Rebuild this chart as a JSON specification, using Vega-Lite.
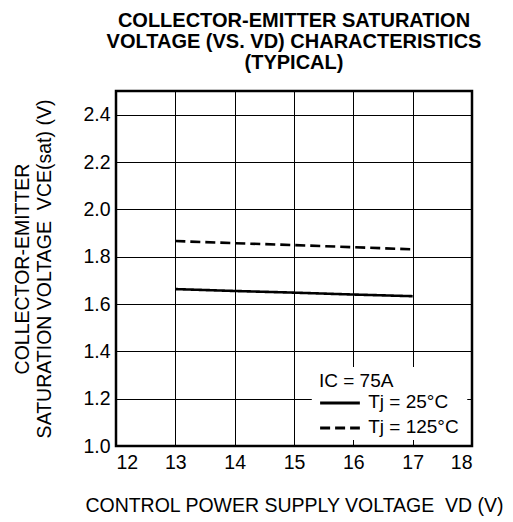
{
  "$schema": "https://vega.github.io/schema/vega-lite/v6.json",
  "width": 356,
  "height": 355,
  "autosize": {"type": "none"},
  "padding": {"left": 116, "top": 91, "right": 41, "bottom": 76},
  "background": "white",
  "title": {
    "text": ["COLLECTOR-EMITTER SATURATION", "VOLTAGE (VS. VD) CHARACTERISTICS", "(TYPICAL)"],
    "font": "Liberation Sans",
    "fontSize": 20,
    "fontWeight": "bold",
    "color": "black",
    "lineHeight": 21,
    "anchor": "middle",
    "frame": "group",
    "offset": 18
  },
  "config": {
    "view": {"stroke": "black", "strokeWidth": 2.5},
    "axis": {
      "labelFont": "Liberation Sans",
      "titleFont": "Liberation Sans",
      "labelFontSize": 19.5,
      "titleFontSize": 19.5,
      "titleFontWeight": "normal",
      "labelColor": "black",
      "titleColor": "black",
      "domain": false,
      "ticks": false,
      "gridColor": "black",
      "gridWidth": 1,
      "gridOpacity": 1
    },
    "text": {"font": "Liberation Sans", "fontSize": 19, "color": "black"}
  },
  "layer": [
    {
      "data": {
        "values": [
          {"vd": 13, "vce": 1.663, "tj": "Tj = 25°C"},
          {"vd": 14, "vce": 1.655, "tj": "Tj = 25°C"},
          {"vd": 15, "vce": 1.648, "tj": "Tj = 25°C"},
          {"vd": 16, "vce": 1.640, "tj": "Tj = 25°C"},
          {"vd": 17, "vce": 1.633, "tj": "Tj = 25°C"},
          {"vd": 13, "vce": 1.866, "tj": "Tj = 125°C"},
          {"vd": 14, "vce": 1.857, "tj": "Tj = 125°C"},
          {"vd": 15, "vce": 1.849, "tj": "Tj = 125°C"},
          {"vd": 16, "vce": 1.840, "tj": "Tj = 125°C"},
          {"vd": 17, "vce": 1.831, "tj": "Tj = 125°C"}
        ]
      },
      "mark": {"type": "line", "color": "black", "strokeWidth": 2.6},
      "encoding": {
        "x": {
          "field": "vd",
          "type": "quantitative",
          "scale": {"domain": [12, 18], "nice": false},
          "axis": {
            "title": "CONTROL POWER SUPPLY VOLTAGE\u00a0\u00a0VD (V)",
            "values": [12, 13, 14, 15, 16, 17, 18],
            "format": "d",
            "labelPadding": 7,
            "titlePadding": 25
          }
        },
        "y": {
          "field": "vce",
          "type": "quantitative",
          "scale": {"domain": [1.0, 2.5], "nice": false, "zero": false},
          "axis": {
            "title": ["COLLECTOR-EMITTER", "SATURATION VOLTAGE\u00a0\u00a0VCE(sat) (V)"],
            "values": [1.0, 1.2, 1.4, 1.6, 1.8, 2.0, 2.2, 2.4],
            "format": ".1f",
            "labelPadding": 6,
            "titlePadding": 28,
            "titleLineHeight": 22
          }
        },
        "strokeDash": {
          "field": "tj",
          "type": "nominal",
          "scale": {"domain": ["Tj = 25°C", "Tj = 125°C"], "range": [[1, 0], [10, 5]]},
          "legend": null
        }
      }
    },
    {
      "data": {"values": [{"legend": "box"}]},
      "mark": {"type": "rect", "fill": "white"},
      "encoding": {
        "x": {"datum": 15.3, "type": "quantitative"},
        "x2": {"datum": 17.92},
        "y": {"datum": 1.334, "type": "quantitative"},
        "y2": {"datum": 1.025}
      }
    },
    {
      "data": {"values": [{"legend": "Tj = 25°C"}]},
      "mark": {"type": "rule", "color": "black", "strokeWidth": 3},
      "encoding": {
        "x": {"datum": 15.44, "type": "quantitative"},
        "x2": {"datum": 16.11},
        "y": {"datum": 1.182, "type": "quantitative"}
      }
    },
    {
      "data": {"values": [{"legend": "Tj = 125°C"}]},
      "mark": {"type": "rule", "color": "black", "strokeWidth": 3, "strokeDash": [10, 5]},
      "encoding": {
        "x": {"datum": 15.44, "type": "quantitative"},
        "x2": {"datum": 16.11},
        "y": {"datum": 1.076, "type": "quantitative"}
      }
    },
    {
      "data": {"values": [{"legend": "IC = 75A"}]},
      "mark": {"type": "text", "align": "left", "baseline": "alphabetic"},
      "encoding": {
        "x": {"datum": 15.42, "type": "quantitative"},
        "y": {"datum": 1.249, "type": "quantitative"},
        "text": {"field": "legend"}
      }
    },
    {
      "data": {"values": [{"legend": "Tj = 25°C"}]},
      "mark": {"type": "text", "align": "left", "baseline": "alphabetic"},
      "encoding": {
        "x": {"datum": 16.25, "type": "quantitative"},
        "y": {"datum": 1.161, "type": "quantitative"},
        "text": {"field": "legend"}
      }
    },
    {
      "data": {"values": [{"legend": "Tj = 125°C"}]},
      "mark": {"type": "text", "align": "left", "baseline": "alphabetic"},
      "encoding": {
        "x": {"datum": 16.25, "type": "quantitative"},
        "y": {"datum": 1.055, "type": "quantitative"},
        "text": {"field": "legend"}
      }
    }
  ]
}
